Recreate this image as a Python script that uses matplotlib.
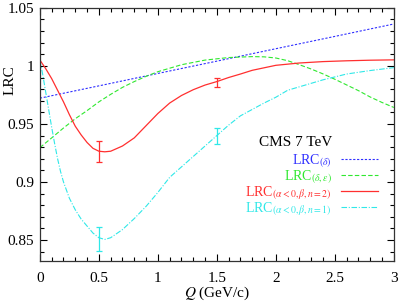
import numpy as np
import matplotlib
matplotlib.use("Agg")
import matplotlib.pyplot as plt
from matplotlib.ticker import MultipleLocator, FuncFormatter

plt.rcParams["font.family"] = ["Liberation Serif", "DejaVu Serif"]
plt.rcParams["mathtext.fontset"] = "stix"

# --- donnees ---
q_delta = [0.0, 0.5, 1.0, 1.5, 2.0, 2.5, 3.0]
lrc_delta = [0.9722, 0.9828, 0.9935, 1.0041, 1.0148, 1.0254, 1.0361]

q_de = [0.0, 0.1, 0.2, 0.3, 0.4, 0.5, 0.6, 0.7, 0.8, 0.9, 1.0, 1.2, 1.4,
        1.6, 1.8, 1.9, 2.0, 2.1, 2.2, 2.3, 2.4, 2.5, 2.6, 2.7, 2.8, 2.9, 3.0]
lrc_de = [0.9296, 0.938, 0.9465, 0.9545, 0.9615, 0.969, 0.9755, 0.9815,
          0.9865, 0.991, 0.995, 1.001, 1.005, 1.0072, 1.008, 1.0078, 1.0068,
          1.0045, 1.001, 0.9973, 0.9931, 0.9885, 0.9836, 0.9787, 0.9732,
          0.9685, 0.9642]

q_n2 = [0.0, 0.05, 0.1, 0.15, 0.2, 0.25, 0.3, 0.35, 0.4, 0.45, 0.5, 0.55,
        0.6, 0.7, 0.8, 0.9, 1.0, 1.1, 1.2, 1.3, 1.4, 1.5, 1.6, 1.7, 1.8,
        2.0, 2.2, 2.4, 2.6, 2.8, 3.0]
lrc_n2 = [1.005, 0.9975, 0.989, 0.979, 0.969, 0.958, 0.948, 0.9405, 0.934,
          0.929, 0.9265, 0.926, 0.9265, 0.931, 0.938, 0.9485, 0.959, 0.968,
          0.9745, 0.9795, 0.9835, 0.9865, 0.990, 0.993, 0.9962, 1.0005,
          1.0025, 1.0037, 1.0044, 1.0049, 1.0052]

q_n1 = [0.0, 0.025, 0.05, 0.075, 0.1, 0.125, 0.15, 0.175, 0.2, 0.25, 0.3,
        0.35, 0.4, 0.45, 0.5, 0.55, 0.6, 0.7, 0.8, 0.9, 1.0, 1.1, 1.2, 1.3,
        1.4, 1.5, 1.6, 1.7, 1.8, 1.9, 2.0, 2.1, 2.2, 2.4, 2.6, 2.8, 3.0]
lrc_n1 = [1.005, 0.992, 0.977, 0.962, 0.947, 0.933, 0.920, 0.909, 0.900,
          0.886, 0.876, 0.868, 0.862, 0.856, 0.852, 0.8505, 0.852, 0.859,
          0.8685, 0.879, 0.891, 0.904, 0.913, 0.922, 0.931, 0.940, 0.949,
          0.957, 0.9625, 0.968, 0.973, 0.979, 0.982, 0.988, 0.993, 0.996,
          0.9985]

# points CMS 7 TeV avec barres d'erreur
q_pts = [0.5, 1.5]
n2_pts = [0.9265, 0.986]
n2_err = [0.009, 0.004]
n1_pts = [0.8505, 0.9395]
n1_err = [0.0103, 0.007]

C_BLUE, C_GREEN, C_RED, C_CYAN = "#2f2fff", "#2fe82f", "#ff2f2f", "#2fe8e8"

fig = plt.figure(figsize=(3.99, 3.02), dpi=100)
ax = fig.add_axes([0.100, 0.136, 0.887, 0.838])

ax.plot(q_delta, lrc_delta, color=C_BLUE, lw=0.8, dashes=(2, 1.5),
        label=r"LRC$_{(\delta)}$")
ax.plot(q_de, lrc_de, color=C_GREEN, lw=0.8, dashes=(4, 2),
        label=r"LRC$_{(\delta,\varepsilon)}$")
ax.plot(q_n2, lrc_n2, color=C_RED, lw=0.9,
        label=r"LRC$_{(\alpha<0,\beta,n=2)}$")
ax.plot(q_n1, lrc_n1, color=C_CYAN, lw=0.8, dashes=(5, 1.5, 1, 1.5),
        label=r"LRC$_{(\alpha<0,\beta,n=1)}$")

ax.errorbar(q_pts, n2_pts, yerr=n2_err, fmt="none", ecolor=C_RED,
            elinewidth=0.9, capsize=2.5, capthick=0.9)
ax.errorbar(q_pts, n1_pts, yerr=n1_err, fmt="none", ecolor=C_CYAN,
            elinewidth=0.9, capsize=2.5, capthick=0.9)

ax.set_xlim(0, 3)
ax.set_ylim(0.832, 1.05)
ax.xaxis.set_major_locator(MultipleLocator(0.5))
ax.xaxis.set_minor_locator(MultipleLocator(0.1))
ax.yaxis.set_major_locator(MultipleLocator(0.05))
ax.yaxis.set_minor_locator(MultipleLocator(0.01))
fmt = FuncFormatter(lambda v, p: f"{v:g}")
ax.xaxis.set_major_formatter(fmt)
ax.yaxis.set_major_formatter(fmt)
ax.tick_params(which="both", direction="in", top=True, right=True,
               labelsize=11, width=0.8)
ax.tick_params(axis="x", which="major", length=5, pad=8)
ax.tick_params(axis="y", which="major", length=5, pad=4)
ax.tick_params(which="minor", length=3)
for s in ax.spines.values():
    s.set_linewidth(0.9)
    s.set_color("#333333")

ax.set_xlabel(r"$Q$ (GeV/c)", fontsize=11, labelpad=0)
fig.text(0.025, 0.735, "LRC", rotation=90, fontsize=11,
         ha="center", va="center")

ax.text(0.826, 0.466, "CMS 7 TeV", transform=ax.transAxes, fontsize=11,
        ha="right", va="center")
leg = ax.legend(loc="upper right", bbox_to_anchor=(0.955, 0.43),
                frameon=False, markerfirst=False, fontsize=10,
                labelcolor="linecolor", handlelength=2.65,
                handletextpad=0.65, labelspacing=-0.12, borderpad=0,
                borderaxespad=0)

fig.savefig("out.png", dpi=100)
